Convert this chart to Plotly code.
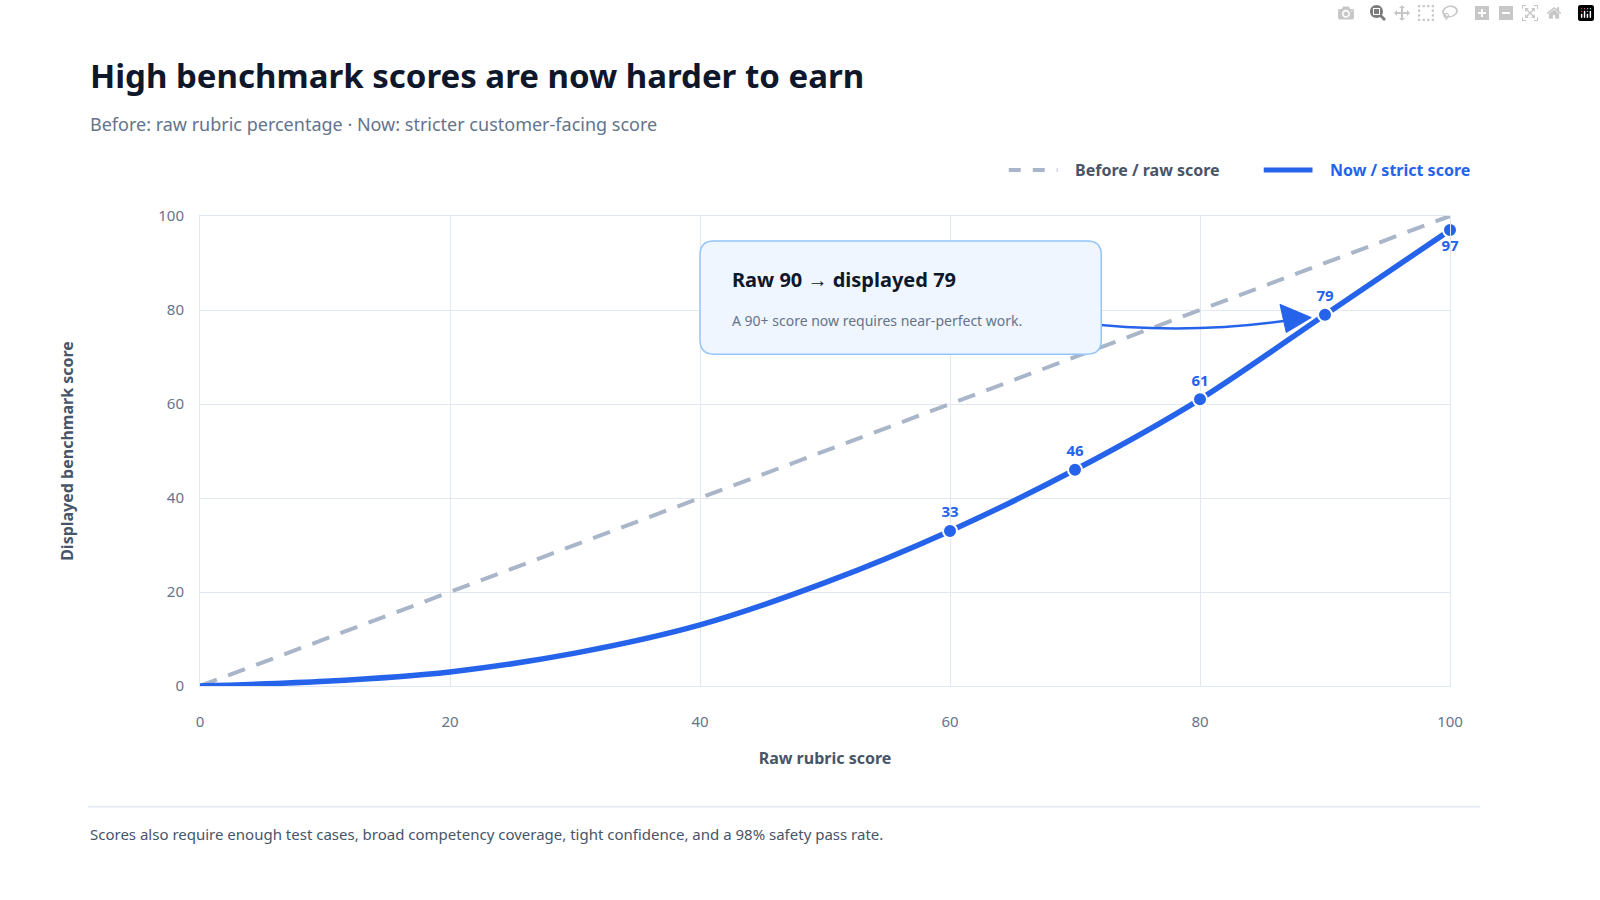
import plotly.graph_objects as go

raw = [0, 10, 20, 30, 40, 50, 60, 70, 80, 90, 100]
strict = [0, 1, 3, 7, 13, 22, 33, 46, 61, 79, 97]
mark_x = [60, 70, 80, 90, 100]
mark_y = [33, 46, 61, 79, 97]
mark_lbl = ["33", "46", "61", "79", "97"]
before_x = [0, 100]
before_y = [0, 100]

BLUE = "#2563eb"
GRAY = "#a9b5c8"
FONT = "Noto Sans"

fig = go.Figure()
fig.add_trace(go.Scatter(x=before_x, y=before_y, mode="lines",
                         line=dict(color=GRAY, width=4, dash="18px,12px"), hoverinfo="skip"))
fig.add_trace(go.Scatter(x=raw, y=strict, mode="lines",
                         line=dict(color=BLUE, width=5.5, shape="spline", smoothing=0.8), hoverinfo="skip"))
fig.add_trace(go.Scatter(x=mark_x[:-1], y=mark_y[:-1], mode="markers+text", text=mark_lbl[:-1],
                         textposition="top center", cliponaxis=False,
                         textfont=dict(color=BLUE, size=15, family=FONT, weight="bold"),
                         marker=dict(color=BLUE, size=14, line=dict(color="white", width=2))))
fig.add_trace(go.Scatter(x=mark_x[-1:], y=mark_y[-1:], mode="markers+text", text=mark_lbl[-1:],
                         textposition="bottom center", cliponaxis=False,
                         textfont=dict(color=BLUE, size=15, family=FONT, weight="bold"),
                         marker=dict(color=BLUE, size=14, line=dict(color="white", width=2))))

x0, x1, y0, y1 = 40, 72.1, 70.6, 94.7
rx, ry = 1.1, 3.0
path = (f"M {x0+rx},{y1} L {x1-rx},{y1} Q {x1},{y1} {x1},{y1-ry} L {x1},{y0+ry} "
        f"Q {x1},{y0} {x1-rx},{y0} L {x0+rx},{y0} Q {x0},{y0} {x0},{y0+ry} "
        f"L {x0},{y1-ry} Q {x0},{y1} {x0+rx},{y1} Z")
shapes = [
    dict(type="path", path="M 70,77.4 Q 79,74.5 87.5,78.0", line=dict(color=BLUE, width=2.5), layer="above"),
    dict(type="path", path="M 86.9,75.2 L 88.9,78.4 L 86.4,81.2 Z", fillcolor=BLUE, line=dict(color=BLUE, width=1), layer="above"),
    dict(type="path", path=path, fillcolor="#eff6ff", line=dict(color="#93c5fd", width=1.5), layer="above"),
    dict(type="line", xref="paper", yref="paper", x0=-0.0896, x1=1.024, y0=-0.257, y1=-0.257,
         line=dict(color="#e2e8f0", width=1.5)),
    dict(type="line", xref="paper", yref="paper", x0=0.647, x1=0.686, y0=1.098, y1=1.098,
         line=dict(color=GRAY, width=4, dash="dash")),
    dict(type="line", xref="paper", yref="paper", x0=0.851, x1=0.89, y0=1.098, y1=1.098,
         line=dict(color=BLUE, width=5)),
]
ann = [
    dict(text="<b>High benchmark scores are now harder to earn</b>", xref="paper", yref="paper",
         x=-0.0896, y=1.298, xanchor="left", yanchor="middle", showarrow=False,
         font=dict(size=33, color="#0f172a", family=FONT)),
    dict(text="Before: raw rubric percentage · Now: stricter customer-facing score", xref="paper", yref="paper",
         x=-0.0896, y=1.196, xanchor="left", yanchor="middle", showarrow=False,
         font=dict(size=18, color="#64748b", family=FONT)),
    dict(text="<b>Before / raw score</b>", xref="paper", yref="paper", x=0.698, y=1.098,
         xanchor="left", yanchor="middle", showarrow=False, font=dict(size=16, color="#475569", family=FONT)),
    dict(text="<b>Now / strict score</b>", xref="paper", yref="paper", x=0.902, y=1.098,
         xanchor="left", yanchor="middle", showarrow=False, font=dict(size=16, color=BLUE, family=FONT)),
    dict(text="<b>Raw 90 → displayed 79</b>", x=42.4, y=86.5, xanchor="left", yanchor="middle",
         showarrow=False, font=dict(size=20, color="#0f172a", family=FONT)),
    dict(text="A 90+ score now requires near-perfect work.", x=42.4, y=77.8, xanchor="left", yanchor="middle",
         showarrow=False, font=dict(size=14, color="#64748b", family=FONT)),
    dict(text="Scores also require enough test cases, broad competency coverage, tight confidence, and a 98% safety pass rate.",
         xref="paper", yref="paper", x=-0.0896, y=-0.315, xanchor="left", yanchor="middle", showarrow=False,
         font=dict(size=15, color="#475569", family=FONT)),
]

fig.update_layout(
    width=1600, height=900, paper_bgcolor="white", plot_bgcolor="white",
    margin=dict(l=200, r=150, t=216, b=214), showlegend=False,
    font=dict(family=FONT, color="#64748b"),
    shapes=shapes, annotations=ann,
    xaxis=dict(range=[0, 100], tickvals=[0, 20, 40, 60, 80, 100], showgrid=True, gridcolor="#e2e8f0",
               zeroline=False, showline=True, linecolor="#e2e8f0", mirror=True, ticks="outside",
               ticklen=22, tickcolor="white",
               tickfont=dict(size=15, color="#64748b"),
               title=dict(text="<b>Raw rubric score</b>", font=dict(size=16, color="#475569"), standoff=22)),
    yaxis=dict(range=[0, 100], tickvals=[0, 20, 40, 60, 80, 100], showgrid=True, gridcolor="#e2e8f0",
               zeroline=False, showline=True, linecolor="#e2e8f0", mirror=True, ticks="outside",
               ticklen=12, tickcolor="white",
               tickfont=dict(size=15, color="#64748b"),
               title=dict(text="<b>Displayed benchmark score</b>", font=dict(size=16, color="#475569"), standoff=80)),
)
fig.write_html("out.html", post_script="document.body.style.margin='0';document.body.style.overflow='hidden';")
